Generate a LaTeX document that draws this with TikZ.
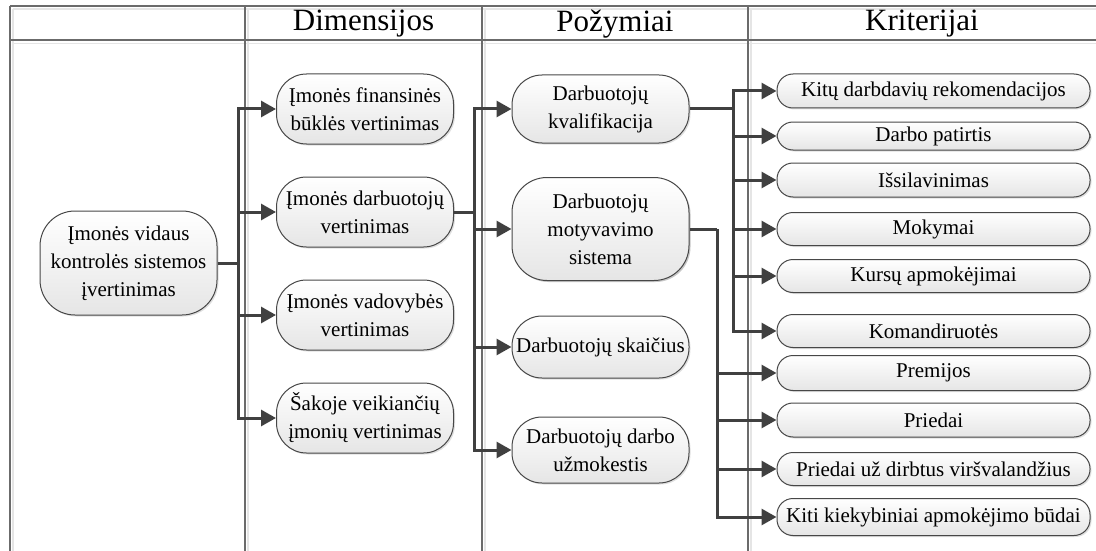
\documentclass[tikz,border=0pt]{standalone}
\usepackage{fontspec}
\setmainfont{Liberation Serif}
\usetikzlibrary{arrows.meta,shadows}

\begin{document}
\begin{tikzpicture}
[x=1pt, y=-1pt,
box/.style ={rectangle, draw=black!72, line width=1pt,
top color=white, bottom color=black!10, rounded corners=#1,
align=center, inner sep=0pt, font=\fontsize{21}{28}\selectfont,
drop shadow={opacity=0.25, shadow xshift=1.5pt, shadow yshift=-1.5pt}},
box/.default=30pt,
block/.style ={box=30pt, minimum width=177pt, minimum height=70pt},
crit/.style ={box=16pt, minimum width=313pt, minimum height=33pt},
head/.style ={font=\fontsize{31}{34}\selectfont},
frame/.style ={draw=black!58, line width=1.3pt},
frameshade/.style ={draw=black!10, line width=1.5pt},
line/.style ={draw=black!75, line width=3pt},
arrow/.style ={line, -{Triangle[length=15pt,width=16pt]}}]
\useasboundingbox (0,0) rectangle (1096,551);

% table frame
\draw[frameshade] (13,9) -- (1096,9);
\draw[frameshade] (13,43.5) -- (1096,43.5);
\foreach \x in {13,248,485,751}
  \draw[frameshade] (\x,9) -- (\x,551);
\draw[frame] (10,6) -- (1096,6);
\draw[frame] (10,40) -- (1096,40);
\foreach \x in {10,245,482,748}
  \draw[frame] (\x,6) -- (\x,551);

\node[head] (hdim) at (363.5,24) {Dimensijos};
\node[head] (hpoz) at (615,24) {Požymiai};
\node[head] (hkri) at (922,24) {Kriterijai};

% column 1
\node[box=35pt, minimum width=177pt, minimum height=104pt] (main) at (128.5,263)
  {Įmonės vidaus\\kontrolės sistemos\\įvertinimas};

% column 2
\node[block] (b1) at (365,109) {Įmonės finansinės\\būklės vertinimas};
\node[block] (b2) at (365,212) {Įmonės darbuotojų\\vertinimas};
\node[block] (b3) at (365,315) {Įmonės vadovybės\\vertinimas};
\node[block] (b4) at (365,418) {Šakoje veikiančių\\įmonių vertinimas};

% column 3
\node[block, minimum height=68pt] (p1) at (600.5,109) {Darbuotojų\\kvalifikacija};
\node[block, box=35pt, minimum height=103pt] (p2) at (600.5,229) {Darbuotojų\\motyvavimo\\sistema};
\node[block, minimum height=62pt] (p3) at (600.5,347) {Darbuotojų skaičius};
\node[block, minimum height=66pt] (p4) at (600.5,450) {Darbuotojų darbo\\užmokestis};

% column 4
\node[crit, minimum height=34pt] (k1) at (933.5,91) {Kitų darbdavių rekomendacijos};
\node[crit, minimum height=28pt] (k2) at (933.5,136) {Darbo patirtis};
\node[crit, minimum height=34pt] (k3) at (933.5,180) {Išsilavinimas};
\node[crit] (k4) at (933.5,229) {Mokymai};
\node[crit] (k5) at (933.5,276) {Kursų apmokėjimai};
\node[crit] (k6) at (933.5,331) {Komandiruotės};
\node[crit, minimum height=35pt] (k7) at (933.5,373) {Premijos};
\node[crit, minimum height=34pt] (k8) at (933.5,420) {Priedai};
\node[crit] (k9) at (933.5,469) {Priedai už dirbtus viršvalandžius};
\node[crit, minimum height=37pt] (k10) at (933.5,517) {Kiti kiekybiniai apmokėjimo būdai};

% branching points
\coordinate (j1) at (238,263);
\coordinate (j2) at (474,212);
\coordinate (j3) at (733,109);
\coordinate (j4) at (717,229);

\draw[line] (main) -- (j1);
\foreach \n in {b1,b2,b3,b4}
  \draw[arrow] (j1) |- (\n);
\draw[line] (b2) -- (j2);
\foreach \n in {p1,p2,p3,p4}
  \draw[arrow] (j2) |- (\n);
\draw[line] (p1) -- (j3);
\foreach \n in {k1,k2,k3,k4,k5,k6}
  \draw[arrow] (j3) |- (\n);
\draw[line] (p2) -- (j4);
\foreach \n in {k7,k8,k9,k10}
  \draw[arrow] (j4) |- (\n);
\end{tikzpicture}
\end{document}
